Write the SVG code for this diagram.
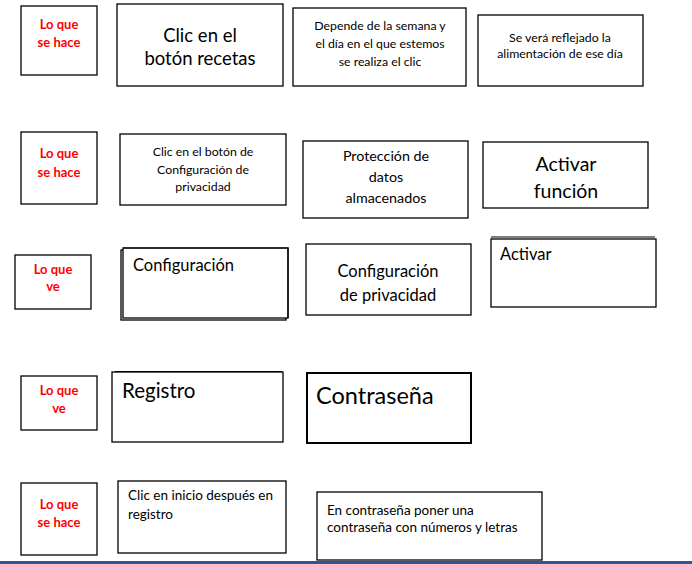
<svg xmlns="http://www.w3.org/2000/svg" width="692" height="564" viewBox="0 0 692 564">
<style>
  .b { fill: #ffffff; stroke: #000000; stroke-width: 1.3; }
  .bt { fill: #ffffff; stroke: #000000; stroke-width: 2; }
  .ln { fill: none; stroke: #000000; stroke-width: 1.2; }
  .lbl { font-family: Lato, "Liberation Sans", sans-serif; font-weight: bold; font-size: 13px; fill: #ff0000; text-anchor: middle; }
  .t { font-family: Lato, "Liberation Sans", sans-serif; fill: #000000; }
  .c { text-anchor: middle; }
</style>
<rect width="692" height="564" fill="#ffffff"/>

<!-- Row 1 -->
<g id="r1-label">
  <rect class="b" x="21" y="6" width="76" height="69"/>
  <text class="lbl" x="59" y="29">Lo que</text>
  <text class="lbl" x="59" y="47">se hace</text>
</g>
<g id="r1-n1">
  <rect class="b" x="117" y="4" width="166" height="82"/>
  <text class="t c" x="200" y="42" font-size="18.5">Clic en el</text>
  <text class="t c" x="200" y="65" font-size="18.5">botón recetas</text>
</g>
<g id="r1-n2">
  <rect class="b" x="293" y="8" width="173" height="78"/>
  <text class="t c" x="380" y="30" font-size="12.3">Depende de la semana y</text>
  <text class="t c" x="380" y="48" font-size="12.3">el día en el que estemos</text>
  <text class="t c" x="380" y="66" font-size="12.3">se realiza el clic</text>
</g>
<g id="r1-n3">
  <rect class="b" x="478" y="15" width="165" height="71"/>
  <text class="t c" x="560" y="42" font-size="12.3">Se verá reflejado la</text>
  <text class="t c" x="560" y="58" font-size="12.3">alimentación de ese día</text>
</g>

<!-- Row 2 -->
<g id="r2-label">
  <rect class="b" x="21" y="132" width="76" height="72"/>
  <text class="lbl" x="59" y="158">Lo que</text>
  <text class="lbl" x="59" y="177">se hace</text>
</g>
<g id="r2-n1">
  <rect class="b" x="120" y="134" width="166" height="71"/>
  <text class="t c" x="203" y="156" font-size="12.3">Clic en el botón de</text>
  <text class="t c" x="203" y="174" font-size="12.3">Configuración de</text>
  <text class="t c" x="203" y="191" font-size="12.3">privacidad</text>
</g>
<g id="r2-n2">
  <rect class="b" x="303" y="141" width="165" height="77"/>
  <text class="t c" x="386" y="161" font-size="14.3">Protección de</text>
  <text class="t c" x="386" y="182" font-size="14.3">datos</text>
  <text class="t c" x="386" y="203" font-size="14.3">almacenados</text>
</g>
<g id="r2-n3">
  <rect class="b" x="483" y="142" width="165" height="66"/>
  <text class="t c" x="566" y="171" font-size="19.5">Activar</text>
  <text class="t c" x="566" y="198" font-size="19.5">función</text>
</g>

<!-- Row 3 -->
<g id="r3-label">
  <rect class="b" x="15" y="255" width="76" height="54"/>
  <text class="lbl" x="53" y="274">Lo que</text>
  <text class="lbl" x="53" y="291">ve</text>
</g>
<g id="r3-n1">
  <rect class="b" x="121" y="250" width="165" height="70" stroke-width="1.1"/>
  <rect class="b" x="123" y="248" width="165" height="70" stroke-width="1.1"/>
  <path class="ln" d="M123 248 H288 V318" stroke-width="2"/>
  <text class="t" x="133" y="271" font-size="16.5">Configuración</text>
</g>
<g id="r3-n2">
  <rect class="b" x="306" y="244" width="165" height="71"/>
  <text class="t c" x="388" y="277" font-size="16.5">Configuración</text>
  <text class="t c" x="388" y="301" font-size="16.5">de privacidad</text>
</g>
<g id="r3-n3">
  <rect class="b" x="491" y="239" width="165" height="68" stroke-width="1.6"/>
  <line class="ln" x1="491" y1="237" x2="655" y2="237"/>
  <text class="t" x="500" y="260" font-size="16.5">Activar</text>
</g>

<!-- Row 4 -->
<g id="r4-label">
  <rect class="b" x="21" y="376" width="76" height="54"/>
  <text class="lbl" x="59" y="395">Lo que</text>
  <text class="lbl" x="59" y="413">ve</text>
</g>
<g id="r4-n1">
  <rect class="b" x="112" y="372" width="171" height="70"/>
  <line class="ln" x1="115" y1="371.5" x2="282" y2="371.5" stroke-width="1.6"/>
  <text class="t" x="122" y="398" font-size="20.5">Registro</text>
</g>
<g id="r4-n2">
  <rect class="bt" x="307" y="373" width="164" height="70"/>
  <text class="t" x="316" y="404" font-size="23.5">Contraseña</text>
</g>

<!-- Row 5 -->
<g id="r5-label">
  <rect class="b" x="21" y="483" width="76" height="72"/>
  <text class="lbl" x="59" y="509">Lo que</text>
  <text class="lbl" x="59" y="527">se hace</text>
</g>
<g id="r5-n1">
  <rect class="b" x="118" y="481" width="168" height="72"/>
  <text class="t" x="128" y="500" font-size="13.5">Clic en inicio después en</text>
  <text class="t" x="128" y="519" font-size="13.5">registro</text>
</g>
<g id="r5-n2">
  <rect class="b" x="317" y="492" width="225" height="68"/>
  <text class="t" x="327" y="515" font-size="13.5">En contraseña poner una</text>
  <text class="t" x="327" y="532" font-size="13.5">contraseña con números y letras</text>
</g>

<g id="connectors"></g>

<rect x="0" y="561" width="692" height="3" fill="#2f5597"/>
</svg>
